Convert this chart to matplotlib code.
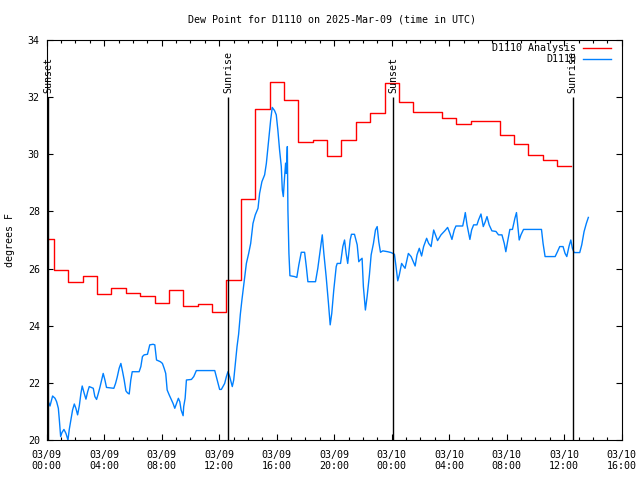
import numpy as np
import pandas as pd
import matplotlib
matplotlib.use('Agg')
import matplotlib.pyplot as plt
import matplotlib.dates as mdates

start = pd.Timestamp('2025-03-09 00:00')

# hourly analysis dew point (deg F), first value at 03/09 00:00
analysis_vals = [27.05, 25.95, 25.52, 25.73, 25.10, 25.31, 25.13, 25.03, 24.78, 25.24,
                 24.68, 24.75, 24.47, 25.60, 28.42, 31.57, 32.52, 31.90, 30.42, 30.49,
                 29.93, 30.50, 31.12, 31.46, 32.48, 31.82, 31.47, 31.47, 31.26, 31.06,
                 31.16, 31.16, 30.66, 30.35, 29.98, 29.81, 29.59]

# station obs: hours after start, dew point (deg F)
obs_hours = [0.00, 0.11, 0.23, 0.41, 0.58, 0.69, 0.81, 0.88, 0.97, 1.06,
             1.20, 1.34, 1.48, 1.57, 1.69, 1.80, 1.92, 2.03, 2.15, 2.27,
             2.38, 2.47, 2.61, 2.73, 2.85, 2.96, 3.24, 3.35, 3.47, 3.59,
             3.70, 3.82, 3.93, 4.05, 4.16, 4.67, 4.79, 4.90, 5.04, 5.16,
             5.28, 5.39, 5.51, 5.62, 5.74, 5.85, 5.95, 6.43, 6.55, 6.66,
             6.78, 7.01, 7.17, 7.40, 7.52, 7.64, 7.91, 8.05, 8.17, 8.28,
             8.38, 8.52, 8.68, 8.79, 8.91, 9.03, 9.16, 9.26, 9.35, 9.49,
             9.53, 9.63, 9.72, 10.07, 10.23, 10.41, 11.69, 11.80, 11.92, 12.03,
             12.15, 12.38, 12.50, 12.61, 12.73, 12.91, 13.01, 13.08, 13.15, 13.24,
             13.35, 13.47, 13.58, 13.72, 13.89, 14.05, 14.19, 14.35, 14.51, 14.70,
             14.81, 14.97, 15.16, 15.28, 15.44, 15.58, 15.69, 15.85, 15.97, 16.08,
             16.20, 16.32, 16.39, 16.46, 16.55, 16.62, 16.67, 16.74, 16.78, 16.85,
             16.92, 17.24, 17.40, 17.54, 17.71, 17.94, 18.06, 18.17, 18.70, 18.86,
             19.03, 19.17, 19.28, 19.44, 19.60, 19.72, 19.83, 19.97, 20.14, 20.21,
             20.44, 20.60, 20.72, 20.83, 20.94, 21.01, 21.11, 21.20, 21.41, 21.60,
             21.71, 21.81, 21.94, 22.03, 22.17, 22.29, 22.45, 22.57, 22.73, 22.87,
             22.99, 23.10, 23.22, 23.38, 23.72, 23.96, 24.19, 24.30, 24.42, 24.53,
             24.69, 24.81, 24.93, 25.16, 25.35, 25.63, 25.76, 25.92, 26.08, 26.22,
             26.43, 26.57, 26.74, 26.92, 27.01, 27.19, 27.43, 27.71, 27.89, 28.05,
             28.19, 28.35, 28.47, 28.94, 29.05, 29.12, 29.24, 29.44, 29.56, 29.70,
             29.93, 30.04, 30.21, 30.37, 30.51, 30.63, 30.78, 30.97, 31.25, 31.43,
             31.67, 31.83, 31.94, 32.06, 32.22, 32.40, 32.57, 32.68, 32.78, 32.87,
             32.99, 33.17, 34.42, 34.53, 34.67, 35.37, 35.53, 35.69, 35.92, 36.06,
             36.18, 36.34, 36.46, 36.57, 36.69, 37.08, 37.22, 37.38, 37.54, 37.68]
obs_vals = [21.37, 21.34, 21.19, 21.54, 21.46, 21.34, 21.11, 20.70, 20.12, 20.26,
            20.37, 20.23, 20.00, 20.37, 20.72, 21.05, 21.26, 21.11, 20.88, 21.20,
            21.63, 21.89, 21.63, 21.43, 21.69, 21.87, 21.81, 21.52, 21.42, 21.63,
            21.84, 22.10, 22.33, 22.10, 21.84, 21.81, 21.98, 22.19, 22.51, 22.68,
            22.39, 22.10, 21.72, 21.65, 21.61, 22.10, 22.39, 22.39, 22.57, 22.92,
            22.98, 23.00, 23.33, 23.35, 23.33, 22.80, 22.74, 22.68, 22.51, 22.33,
            21.75, 21.58, 21.40, 21.28, 21.11, 21.28, 21.46, 21.34, 21.05, 20.85,
            21.17, 21.46, 22.10, 22.12, 22.22, 22.43, 22.43, 22.22, 21.98, 21.77,
            21.77, 21.98, 22.22, 22.39, 22.22, 21.87, 22.10, 22.45, 22.80, 23.27,
            23.70, 24.40, 24.90, 25.48, 26.18, 26.53, 26.88, 27.58, 27.88, 28.11,
            28.63, 29.04, 29.28, 29.68, 30.50, 31.20, 31.64, 31.53, 31.38, 30.85,
            30.15, 29.57, 28.75, 28.52, 29.22, 29.69, 29.33, 30.27, 28.05, 26.53,
            25.75, 25.72, 25.69, 26.13, 26.57, 26.57, 26.07, 25.54, 25.54, 26.01,
            26.65, 27.18, 26.53, 25.72, 24.79, 24.03, 24.43, 25.25, 26.07, 26.18,
            26.18, 26.77, 27.00, 26.53, 26.18, 26.53, 27.00, 27.20, 27.20, 26.83,
            26.24, 26.30, 26.36, 25.37, 24.55, 25.02, 25.78, 26.48, 26.88, 27.35,
            27.47, 26.94, 26.57, 26.62, 26.59, 26.56, 26.50, 26.07, 25.57, 25.78,
            26.18, 26.09, 26.01, 26.53, 26.42, 26.09, 26.48, 26.71, 26.44, 26.77,
            27.06, 26.88, 26.77, 27.35, 27.23, 26.98, 27.18, 27.33, 27.44, 27.23,
            27.02, 27.35, 27.49, 27.49, 27.76, 27.96, 27.53, 27.02, 27.35, 27.53,
            27.53, 27.70, 27.91, 27.47, 27.64, 27.82, 27.53, 27.32, 27.30, 27.18,
            27.18, 26.88, 26.59, 26.94, 27.37, 27.37, 27.76, 27.96, 27.47, 27.00,
            27.18, 27.37, 27.37, 26.88, 26.42, 26.42, 26.59, 26.77, 26.77, 26.53,
            26.42, 26.79, 27.00, 26.71, 26.56, 26.56, 26.83, 27.29, 27.58, 27.79]

sun_labels = ['Sunset', 'Sunrise', 'Sunset', 'Sunrise']
sun_times = ['2025-03-09 00:07', '2025-03-09 12:37', '2025-03-10 00:07', '2025-03-10 12:35']

plt.rcParams['font.family'] = 'DejaVu Sans Mono'
plt.rcParams['font.size'] = 7.2

fig = plt.figure(figsize=(6.4, 4.8), dpi=100)
ax = fig.add_axes([46.7 / 640, 40 / 480, 575 / 640, 400 / 480])

# analysis: hourly values, changing on the half hour
an_times = start + pd.to_timedelta(np.arange(len(analysis_vals)), unit='h')
half = pd.Timedelta(minutes=30)
edges = list(an_times - half)
edges[0] = start
edges.append(an_times[-1] + half)
ax.step(pd.DatetimeIndex(edges).to_numpy(), analysis_vals + [analysis_vals[-1]],
        where='post', color='#ff0000', lw=1.0, label='D1110 Analysis')

obs_times = start + pd.to_timedelta(obs_hours, unit='h')
ax.plot(obs_times.to_numpy(), obs_vals, color='#0080ff', lw=1.0, label='D1110')

for lab, t in zip(sun_labels, sun_times):
    t = pd.Timestamp(t).to_datetime64()
    ax.vlines(t, 20, 32, color='black', lw=1.0)
    ax.text(t, 32.15, lab, rotation=90, ha='center', va='bottom')

ax.set_xlim(start.to_datetime64(), (start + pd.Timedelta(hours=40)).to_datetime64())
ax.set_ylim(20, 34)
ax.set_yticks(np.arange(20, 35, 2))

ax.xaxis.set_major_locator(mdates.HourLocator(byhour=range(0, 24, 4)))
ax.xaxis.set_minor_locator(mdates.HourLocator())
ax.xaxis.set_major_formatter(mdates.DateFormatter('%m/%d\n%H:%M'))
ax.tick_params(which='both', direction='in', top=True, right=True, width=0.8)
ax.tick_params(which='major', length=4.3)
ax.tick_params(which='minor', length=2.2)
ax.tick_params(axis='x', which='major', pad=7)
ax.tick_params(axis='y', which='major', pad=5)
for s in ax.spines.values():
    s.set_linewidth(0.8)

ax.legend(loc='upper right', bbox_to_anchor=(611 / 640, 1 - 43 / 480),
          bbox_transform=fig.transFigure, frameon=False, markerfirst=False,
          borderpad=0, borderaxespad=0, handlelength=2.8, handletextpad=0.7,
          labelspacing=0.15)

fig.text(332 / 640, 1 - 19 / 480, 'Dew Point for D1110 on 2025-Mar-09 (time in UTC)',
         ha='center', va='center')
fig.text(10 / 640, 0.5, 'degrees F', rotation=90, ha='center', va='center')

fig.savefig('out.png', dpi=100)
